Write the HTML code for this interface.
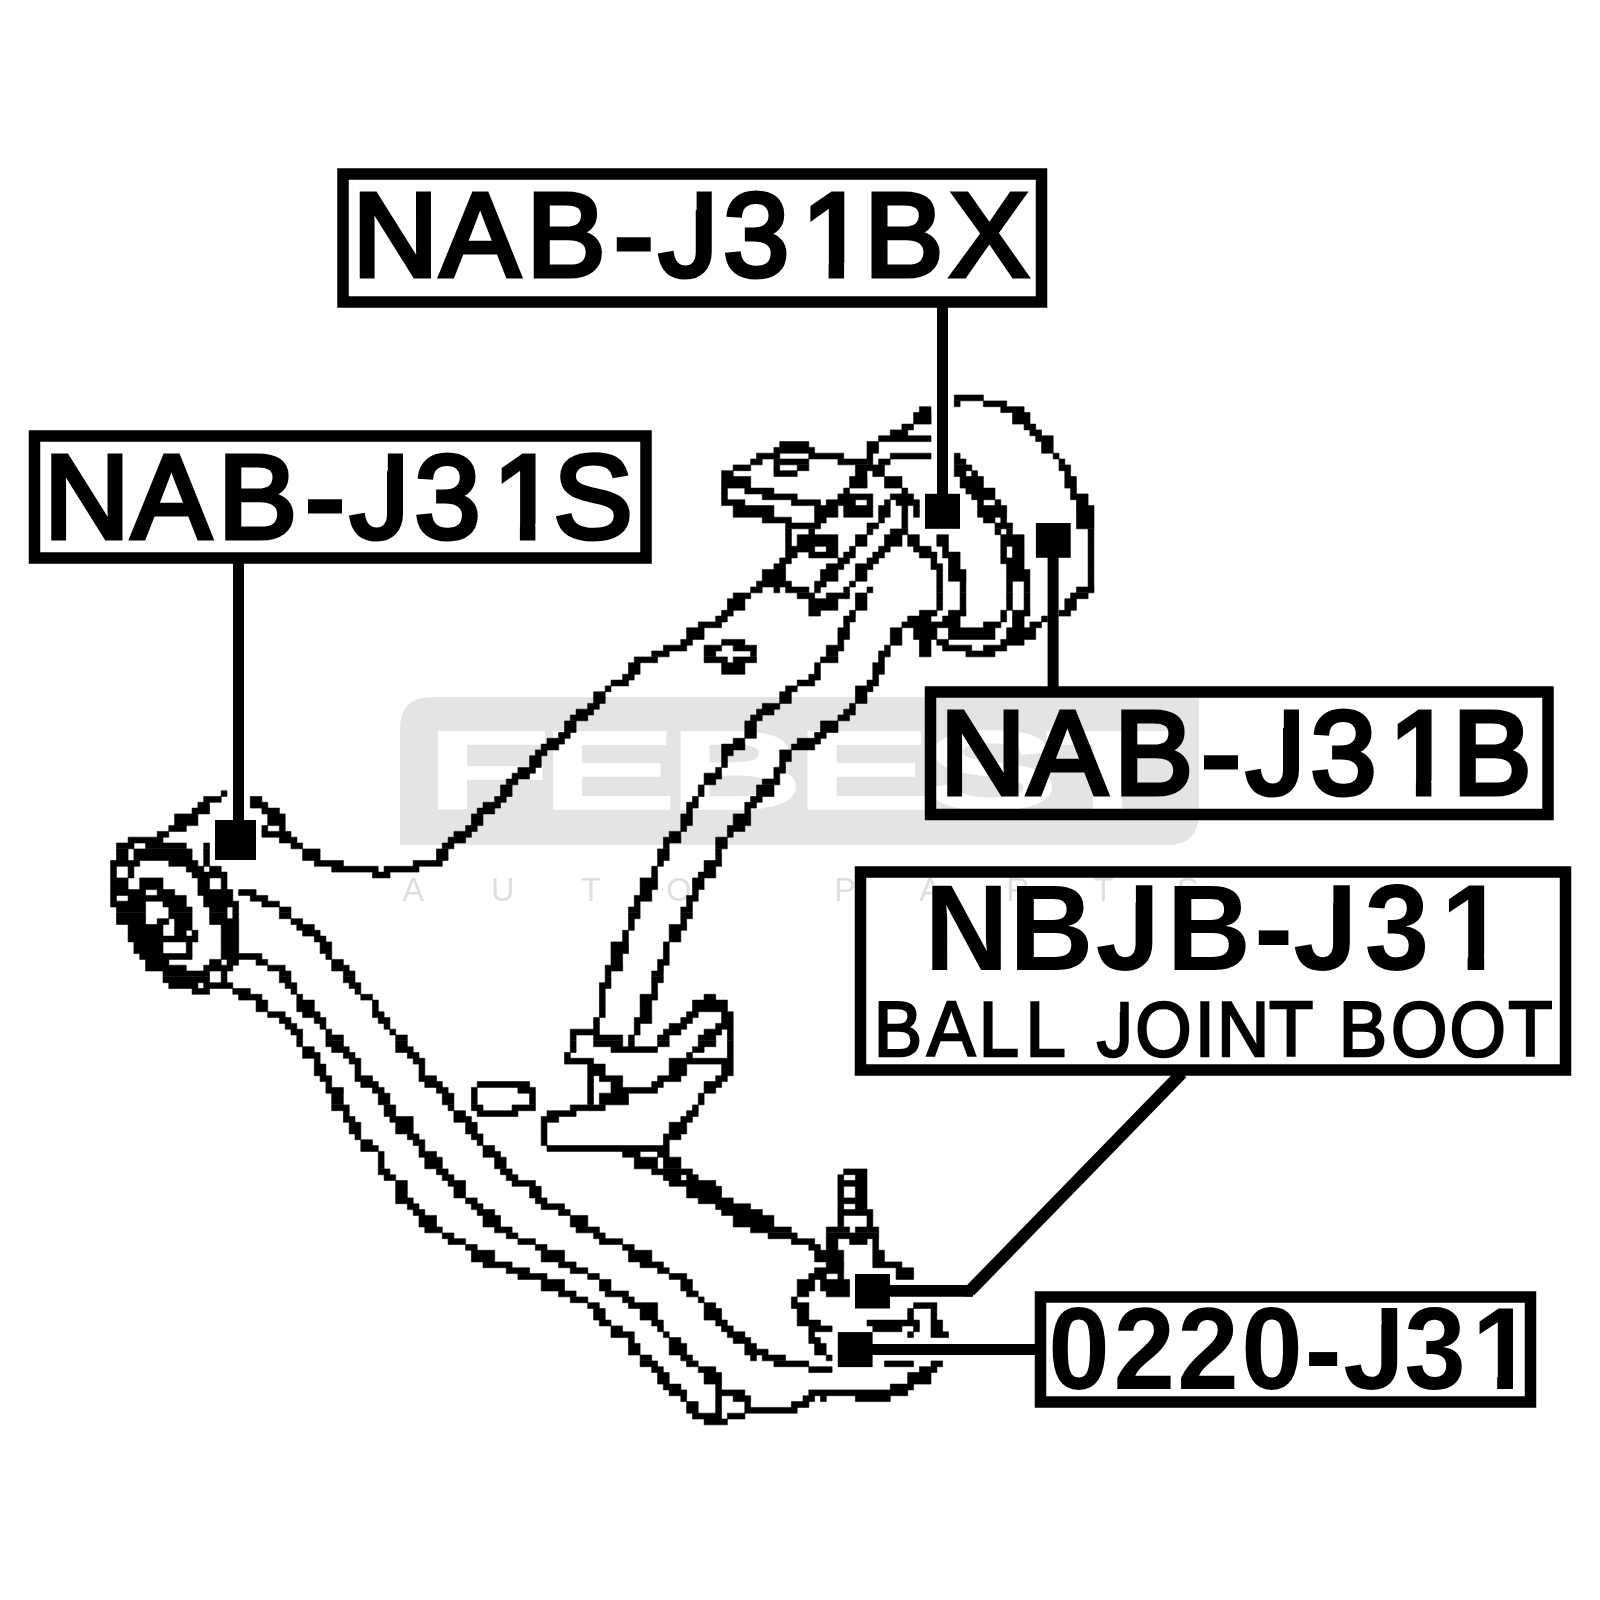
<!DOCTYPE html>
<html lang="en">
<head>
<meta charset="utf-8">
<title>Front lower arm parts diagram</title>
<style>
html,body{margin:0;padding:0;background:#fff;}
body{width:1600px;height:1600px;overflow:hidden;}
svg{display:block;}
text{font-family:"Liberation Sans",sans-serif;}
.lbl{fill:#000;stroke:#000;stroke-width:5;stroke-linejoin:miter;}
.bold{font-weight:bold;fill:#000;}
.box{fill:none;stroke:#000;stroke-width:11.5;}
.lead{fill:none;stroke:#000;stroke-width:11;}
.d{fill:none;stroke:#000;stroke-width:5;stroke-linejoin:round;stroke-linecap:round;}
.t{fill:none;stroke:#000;stroke-width:8;stroke-linejoin:round;stroke-linecap:round;}
</style>
</head>
<body>
<svg width="1600" height="1600" viewBox="0 0 1600 1600">
<rect width="1600" height="1600" fill="#fff"/>

<!-- WATERMARK -->
<g id="wm">
<path d="M432 697 H1199 V813 Q1199 845 1167 845 H400 V729 Q400 697 432 697 Z" fill="#e4e4e4"/>
<g transform="scale(1.87 1)"><text x="228.5 290.0 358.1 426.1 494.4 560.2" y="806.75" font-size="105.2" fill="#fff" stroke="#fff" stroke-width="8.5" stroke-linejoin="miter" vector-effect="non-scaling-stroke" style="vector-effect:non-scaling-stroke">FEBEST</text></g>
</g>


<!-- DRAWING -->
<g id="drawing" transform="translate(0.1 -0.6)"><path fill="#000" stroke="#000" stroke-width="0.6" d="M954.2,395.6h29.1v5.8h-29.1zM954.2,401.5h5.8v5.8h-5.8zM983.3,401.5h23.3v5.8h-23.3zM919.3,407.3h11.6v5.8h-11.6zM1000.7,407.3h23.3v5.8h-23.3zM913.5,413.1h17.5v5.8h-17.5zM1012.4,413.1h17.5v5.8h-17.5zM913.5,418.9h17.5v5.8h-17.5zM1012.4,418.9h17.5v5.8h-17.5zM901.8,424.7h11.6v5.8h-11.6zM1024.0,424.7h11.6v5.8h-11.6zM890.2,430.5h17.5v5.8h-17.5zM1029.8,430.5h11.6v5.8h-11.6zM878.5,436.4h52.4v5.8h-52.4zM1035.6,436.4h17.5v5.8h-17.5zM779.6,442.2h29.1v5.8h-29.1zM866.9,442.2h11.6v5.8h-11.6zM1041.5,442.2h11.6v5.8h-11.6zM773.8,448.0h40.7v5.8h-40.7zM866.9,448.0h11.6v5.8h-11.6zM1041.5,448.0h11.6v5.8h-11.6zM756.4,453.8h23.3v5.8h-23.3zM808.7,453.8h34.9v5.8h-34.9zM866.9,453.8h5.8v5.8h-5.8zM890.2,453.8h40.7v5.8h-40.7zM954.2,453.8h5.8v5.8h-5.8zM1053.1,453.8h5.8v5.8h-5.8zM750.5,459.6h11.6v5.8h-11.6zM773.8,459.6h34.9v5.8h-34.9zM837.8,459.6h34.9v5.8h-34.9zM878.5,459.6h11.6v5.8h-11.6zM954.2,459.6h11.6v5.8h-11.6zM1058.9,459.6h5.8v5.8h-5.8zM733.1,465.5h17.5v5.8h-17.5zM773.8,465.5h5.8v5.8h-5.8zM797.1,465.5h11.6v5.8h-11.6zM855.3,465.5h29.1v5.8h-29.1zM954.2,465.5h17.5v5.8h-17.5zM1058.9,465.5h11.6v5.8h-11.6zM721.5,471.3h11.6v5.8h-11.6zM773.8,471.3h23.3v5.8h-23.3zM855.3,471.3h11.6v5.8h-11.6zM872.7,471.3h11.6v5.8h-11.6zM954.2,471.3h11.6v5.8h-11.6zM971.6,471.3h5.8v5.8h-5.8zM1064.7,471.3h5.8v5.8h-5.8zM721.5,477.1h29.1v5.8h-29.1zM849.5,477.1h17.5v5.8h-17.5zM884.4,477.1h17.5v5.8h-17.5zM960.0,477.1h23.3v5.8h-23.3zM1064.7,477.1h11.6v5.8h-11.6zM721.5,482.9h29.1v5.8h-29.1zM849.5,482.9h17.5v5.8h-17.5zM884.4,482.9h17.5v5.8h-17.5zM960.0,482.9h23.3v5.8h-23.3zM1064.7,482.9h11.6v5.8h-11.6zM721.5,488.7h5.8v5.8h-5.8zM744.7,488.7h29.1v5.8h-29.1zM843.6,488.7h5.8v5.8h-5.8zM901.8,488.7h5.8v5.8h-5.8zM965.8,488.7h29.1v5.8h-29.1zM1070.5,488.7h5.8v5.8h-5.8zM721.5,494.5h5.8v5.8h-5.8zM762.2,494.5h34.9v5.8h-34.9zM837.8,494.5h34.9v5.8h-34.9zM890.2,494.5h23.3v5.8h-23.3zM971.6,494.5h23.3v5.8h-23.3zM1070.5,494.5h17.5v5.8h-17.5zM721.5,500.4h23.3v5.8h-23.3zM791.3,500.4h29.1v5.8h-29.1zM826.2,500.4h29.1v5.8h-29.1zM866.9,500.4h5.8v5.8h-5.8zM884.4,500.4h5.8v5.8h-5.8zM896.0,500.4h23.3v5.8h-23.3zM977.5,500.4h5.8v5.8h-5.8zM994.9,500.4h5.8v5.8h-5.8zM1076.4,500.4h11.6v5.8h-11.6zM733.1,506.2h40.7v5.8h-40.7zM814.5,506.2h23.3v5.8h-23.3zM843.6,506.2h29.1v5.8h-29.1zM878.5,506.2h11.6v5.8h-11.6zM901.8,506.2h5.8v5.8h-5.8zM913.5,506.2h5.8v5.8h-5.8zM977.5,506.2h29.1v5.8h-29.1zM1076.4,506.2h17.5v5.8h-17.5zM733.1,512.0h40.7v5.8h-40.7zM814.5,512.0h23.3v5.8h-23.3zM843.6,512.0h29.1v5.8h-29.1zM878.5,512.0h11.6v5.8h-11.6zM901.8,512.0h5.8v5.8h-5.8zM913.5,512.0h5.8v5.8h-5.8zM977.5,512.0h29.1v5.8h-29.1zM1076.4,512.0h17.5v5.8h-17.5zM762.2,517.8h29.1v5.8h-29.1zM814.5,517.8h11.6v5.8h-11.6zM878.5,517.8h5.8v5.8h-5.8zM901.8,517.8h5.8v5.8h-5.8zM983.3,517.8h11.6v5.8h-11.6zM1000.7,517.8h5.8v5.8h-5.8zM1076.4,517.8h17.5v5.8h-17.5zM785.5,523.6h34.9v5.8h-34.9zM866.9,523.6h11.6v5.8h-11.6zM901.8,523.6h5.8v5.8h-5.8zM994.9,523.6h17.5v5.8h-17.5zM1076.4,523.6h17.5v5.8h-17.5zM785.5,529.5h5.8v5.8h-5.8zM808.7,529.5h5.8v5.8h-5.8zM866.9,529.5h5.8v5.8h-5.8zM890.2,529.5h17.5v5.8h-17.5zM994.9,529.5h5.8v5.8h-5.8zM1006.5,529.5h5.8v5.8h-5.8zM1088.0,529.5h5.8v5.8h-5.8zM785.5,535.3h5.8v5.8h-5.8zM797.1,535.3h40.7v5.8h-40.7zM855.3,535.3h11.6v5.8h-11.6zM884.4,535.3h17.5v5.8h-17.5zM907.6,535.3h11.6v5.8h-11.6zM936.7,535.3h11.6v5.8h-11.6zM1000.7,535.3h23.3v5.8h-23.3zM1088.0,535.3h5.8v5.8h-5.8zM785.5,541.1h5.8v5.8h-5.8zM797.1,541.1h40.7v5.8h-40.7zM855.3,541.1h11.6v5.8h-11.6zM884.4,541.1h17.5v5.8h-17.5zM907.6,541.1h11.6v5.8h-11.6zM936.7,541.1h11.6v5.8h-11.6zM1000.7,541.1h23.3v5.8h-23.3zM1088.0,541.1h5.8v5.8h-5.8zM785.5,546.9h29.1v5.8h-29.1zM826.2,546.9h11.6v5.8h-11.6zM849.5,546.9h5.8v5.8h-5.8zM878.5,546.9h11.6v5.8h-11.6zM913.5,546.9h17.5v5.8h-17.5zM942.5,546.9h5.8v5.8h-5.8zM1000.7,546.9h5.8v5.8h-5.8zM1012.4,546.9h11.6v5.8h-11.6zM1088.0,546.9h5.8v5.8h-5.8zM785.5,552.7h11.6v5.8h-11.6zM808.7,552.7h29.1v5.8h-29.1zM843.6,552.7h11.6v5.8h-11.6zM872.7,552.7h11.6v5.8h-11.6zM919.3,552.7h17.5v5.8h-17.5zM942.5,552.7h17.5v5.8h-17.5zM1000.7,552.7h5.8v5.8h-5.8zM1012.4,552.7h11.6v5.8h-11.6zM1088.0,552.7h5.8v5.8h-5.8zM779.6,558.5h11.6v5.8h-11.6zM837.8,558.5h11.6v5.8h-11.6zM866.9,558.5h11.6v5.8h-11.6zM930.9,558.5h5.8v5.8h-5.8zM948.4,558.5h11.6v5.8h-11.6zM1000.7,558.5h23.3v5.8h-23.3zM1088.0,558.5h5.8v5.8h-5.8zM773.8,564.4h11.6v5.8h-11.6zM826.2,564.4h17.5v5.8h-17.5zM855.3,564.4h17.5v5.8h-17.5zM930.9,564.4h11.6v5.8h-11.6zM948.4,564.4h11.6v5.8h-11.6zM1006.5,564.4h17.5v5.8h-17.5zM1088.0,564.4h5.8v5.8h-5.8zM762.2,570.2h23.3v5.8h-23.3zM820.4,570.2h17.5v5.8h-17.5zM855.3,570.2h11.6v5.8h-11.6zM936.7,570.2h5.8v5.8h-5.8zM948.4,570.2h17.5v5.8h-17.5zM1006.5,570.2h23.3v5.8h-23.3zM1088.0,570.2h5.8v5.8h-5.8zM762.2,576.0h23.3v5.8h-23.3zM820.4,576.0h17.5v5.8h-17.5zM855.3,576.0h11.6v5.8h-11.6zM936.7,576.0h5.8v5.8h-5.8zM948.4,576.0h17.5v5.8h-17.5zM1006.5,576.0h23.3v5.8h-23.3zM1088.0,576.0h5.8v5.8h-5.8zM756.4,581.8h34.9v5.8h-34.9zM814.5,581.8h11.6v5.8h-11.6zM849.5,581.8h5.8v5.8h-5.8zM936.7,581.8h5.8v5.8h-5.8zM960.0,581.8h5.8v5.8h-5.8zM1006.5,581.8h5.8v5.8h-5.8zM1024.0,581.8h5.8v5.8h-5.8zM1088.0,581.8h5.8v5.8h-5.8zM750.5,587.6h11.6v5.8h-11.6zM773.8,587.6h5.8v5.8h-5.8zM785.5,587.6h23.3v5.8h-23.3zM814.5,587.6h5.8v5.8h-5.8zM843.6,587.6h5.8v5.8h-5.8zM866.9,587.6h5.8v5.8h-5.8zM936.7,587.6h5.8v5.8h-5.8zM960.0,587.6h5.8v5.8h-5.8zM1006.5,587.6h5.8v5.8h-5.8zM1024.0,587.6h5.8v5.8h-5.8zM1076.4,587.6h17.5v5.8h-17.5zM733.1,593.5h17.5v5.8h-17.5zM797.1,593.5h17.5v5.8h-17.5zM826.2,593.5h23.3v5.8h-23.3zM855.3,593.5h11.6v5.8h-11.6zM936.7,593.5h5.8v5.8h-5.8zM960.0,593.5h5.8v5.8h-5.8zM1006.5,593.5h5.8v5.8h-5.8zM1024.0,593.5h5.8v5.8h-5.8zM1070.5,593.5h17.5v5.8h-17.5zM727.3,599.3h17.5v5.8h-17.5zM808.7,599.3h29.1v5.8h-29.1zM855.3,599.3h11.6v5.8h-11.6zM936.7,599.3h5.8v5.8h-5.8zM960.0,599.3h5.8v5.8h-5.8zM1006.5,599.3h5.8v5.8h-5.8zM1024.0,599.3h5.8v5.8h-5.8zM1064.7,599.3h11.6v5.8h-11.6zM727.3,605.1h17.5v5.8h-17.5zM808.7,605.1h29.1v5.8h-29.1zM855.3,605.1h11.6v5.8h-11.6zM936.7,605.1h5.8v5.8h-5.8zM960.0,605.1h5.8v5.8h-5.8zM1006.5,605.1h5.8v5.8h-5.8zM1024.0,605.1h5.8v5.8h-5.8zM1064.7,605.1h11.6v5.8h-11.6zM721.5,610.9h11.6v5.8h-11.6zM808.7,610.9h11.6v5.8h-11.6zM849.5,610.9h5.8v5.8h-5.8zM919.3,610.9h17.5v5.8h-17.5zM948.4,610.9h17.5v5.8h-17.5zM1000.7,610.9h5.8v5.8h-5.8zM1012.4,610.9h17.5v5.8h-17.5zM1058.9,610.9h11.6v5.8h-11.6zM715.6,616.7h11.6v5.8h-11.6zM843.6,616.7h11.6v5.8h-11.6zM907.6,616.7h23.3v5.8h-23.3zM942.5,616.7h17.5v5.8h-17.5zM1000.7,616.7h5.8v5.8h-5.8zM1012.4,616.7h11.6v5.8h-11.6zM1041.5,616.7h5.8v5.8h-5.8zM698.2,622.5h23.3v5.8h-23.3zM843.6,622.5h5.8v5.8h-5.8zM901.8,622.5h58.2v5.8h-58.2zM983.3,622.5h17.5v5.8h-17.5zM1012.4,622.5h11.6v5.8h-11.6zM1029.8,622.5h11.6v5.8h-11.6zM686.5,628.4h17.5v5.8h-17.5zM837.8,628.4h11.6v5.8h-11.6zM890.2,628.4h11.6v5.8h-11.6zM913.5,628.4h23.3v5.8h-23.3zM948.4,628.4h46.5v5.8h-46.5zM1006.5,628.4h29.1v5.8h-29.1zM686.5,634.2h17.5v5.8h-17.5zM837.8,634.2h11.6v5.8h-11.6zM890.2,634.2h11.6v5.8h-11.6zM913.5,634.2h23.3v5.8h-23.3zM948.4,634.2h46.5v5.8h-46.5zM1006.5,634.2h29.1v5.8h-29.1zM680.7,640.0h11.6v5.8h-11.6zM721.5,640.0h23.3v5.8h-23.3zM837.8,640.0h5.8v5.8h-5.8zM890.2,640.0h11.6v5.8h-11.6zM919.3,640.0h11.6v5.8h-11.6zM936.7,640.0h11.6v5.8h-11.6zM1000.7,640.0h23.3v5.8h-23.3zM663.3,645.8h23.3v5.8h-23.3zM704.0,645.8h17.5v5.8h-17.5zM733.1,645.8h23.3v5.8h-23.3zM826.2,645.8h17.5v5.8h-17.5zM884.4,645.8h5.8v5.8h-5.8zM919.3,645.8h11.6v5.8h-11.6zM942.5,645.8h29.1v5.8h-29.1zM983.3,645.8h23.3v5.8h-23.3zM651.6,651.6h17.5v5.8h-17.5zM704.0,651.6h11.6v5.8h-11.6zM750.5,651.6h5.8v5.8h-5.8zM826.2,651.6h11.6v5.8h-11.6zM878.5,651.6h11.6v5.8h-11.6zM919.3,651.6h11.6v5.8h-11.6zM965.8,651.6h29.1v5.8h-29.1zM634.2,657.5h23.3v5.8h-23.3zM704.0,657.5h23.3v5.8h-23.3zM733.1,657.5h23.3v5.8h-23.3zM820.4,657.5h17.5v5.8h-17.5zM878.5,657.5h5.8v5.8h-5.8zM628.4,663.3h11.6v5.8h-11.6zM721.5,663.3h23.3v5.8h-23.3zM814.5,663.3h5.8v5.8h-5.8zM872.7,663.3h11.6v5.8h-11.6zM628.4,669.1h11.6v5.8h-11.6zM721.5,669.1h23.3v5.8h-23.3zM814.5,669.1h5.8v5.8h-5.8zM872.7,669.1h11.6v5.8h-11.6zM622.5,674.9h11.6v5.8h-11.6zM808.7,674.9h11.6v5.8h-11.6zM872.7,674.9h5.8v5.8h-5.8zM610.9,680.7h17.5v5.8h-17.5zM797.1,680.7h17.5v5.8h-17.5zM866.9,680.7h11.6v5.8h-11.6zM605.1,686.5h5.8v5.8h-5.8zM785.5,686.5h11.6v5.8h-11.6zM855.3,686.5h17.5v5.8h-17.5zM593.5,692.4h11.6v5.8h-11.6zM779.6,692.4h11.6v5.8h-11.6zM855.3,692.4h11.6v5.8h-11.6zM593.5,698.2h11.6v5.8h-11.6zM779.6,698.2h11.6v5.8h-11.6zM855.3,698.2h11.6v5.8h-11.6zM587.6,704.0h11.6v5.8h-11.6zM762.2,704.0h17.5v5.8h-17.5zM849.5,704.0h5.8v5.8h-5.8zM576.0,709.8h17.5v5.8h-17.5zM756.4,709.8h17.5v5.8h-17.5zM843.6,709.8h11.6v5.8h-11.6zM570.2,715.6h17.5v5.8h-17.5zM750.5,715.6h11.6v5.8h-11.6zM837.8,715.6h11.6v5.8h-11.6zM564.4,721.5h11.6v5.8h-11.6zM744.7,721.5h11.6v5.8h-11.6zM820.4,721.5h17.5v5.8h-17.5zM564.4,727.3h11.6v5.8h-11.6zM744.7,727.3h11.6v5.8h-11.6zM820.4,727.3h17.5v5.8h-17.5zM558.5,733.1h11.6v5.8h-11.6zM744.7,733.1h11.6v5.8h-11.6zM814.5,733.1h11.6v5.8h-11.6zM546.9,738.9h17.5v5.8h-17.5zM733.1,738.9h11.6v5.8h-11.6zM797.1,738.9h23.3v5.8h-23.3zM541.1,744.7h17.5v5.8h-17.5zM721.5,744.7h23.3v5.8h-23.3zM791.3,744.7h23.3v5.8h-23.3zM535.3,750.5h11.6v5.8h-11.6zM721.5,750.5h11.6v5.8h-11.6zM779.6,750.5h11.6v5.8h-11.6zM529.5,756.4h11.6v5.8h-11.6zM721.5,756.4h5.8v5.8h-5.8zM779.6,756.4h11.6v5.8h-11.6zM529.5,762.2h11.6v5.8h-11.6zM721.5,762.2h5.8v5.8h-5.8zM779.6,762.2h5.8v5.8h-5.8zM517.8,768.0h17.5v5.8h-17.5zM715.6,768.0h5.8v5.8h-5.8zM773.8,768.0h11.6v5.8h-11.6zM512.0,773.8h17.5v5.8h-17.5zM704.0,773.8h17.5v5.8h-17.5zM773.8,773.8h5.8v5.8h-5.8zM506.2,779.6h11.6v5.8h-11.6zM704.0,779.6h11.6v5.8h-11.6zM762.2,779.6h17.5v5.8h-17.5zM500.4,785.5h11.6v5.8h-11.6zM698.2,785.5h5.8v5.8h-5.8zM756.4,785.5h17.5v5.8h-17.5zM221.1,791.3h5.8v5.8h-5.8zM500.4,791.3h11.6v5.8h-11.6zM698.2,791.3h5.8v5.8h-5.8zM756.4,791.3h17.5v5.8h-17.5zM203.6,797.1h17.5v5.8h-17.5zM250.2,797.1h11.6v5.8h-11.6zM494.5,797.1h11.6v5.8h-11.6zM692.4,797.1h5.8v5.8h-5.8zM750.5,797.1h11.6v5.8h-11.6zM197.8,802.9h11.6v5.8h-11.6zM250.2,802.9h17.5v5.8h-17.5zM482.9,802.9h17.5v5.8h-17.5zM686.5,802.9h11.6v5.8h-11.6zM744.7,802.9h11.6v5.8h-11.6zM192.0,808.7h17.5v5.8h-17.5zM261.8,808.7h17.5v5.8h-17.5zM477.1,808.7h17.5v5.8h-17.5zM686.5,808.7h5.8v5.8h-5.8zM744.7,808.7h5.8v5.8h-5.8zM174.5,814.5h23.3v5.8h-23.3zM267.6,814.5h17.5v5.8h-17.5zM471.3,814.5h11.6v5.8h-11.6zM680.7,814.5h11.6v5.8h-11.6zM733.1,814.5h17.5v5.8h-17.5zM174.5,820.4h23.3v5.8h-23.3zM267.6,820.4h17.5v5.8h-17.5zM471.3,820.4h11.6v5.8h-11.6zM680.7,820.4h11.6v5.8h-11.6zM733.1,820.4h17.5v5.8h-17.5zM168.7,826.2h17.5v5.8h-17.5zM261.8,826.2h5.8v5.8h-5.8zM279.3,826.2h5.8v5.8h-5.8zM465.5,826.2h11.6v5.8h-11.6zM680.7,826.2h5.8v5.8h-5.8zM727.3,826.2h17.5v5.8h-17.5zM157.1,832.0h11.6v5.8h-11.6zM261.8,832.0h29.1v5.8h-29.1zM453.8,832.0h17.5v5.8h-17.5zM669.1,832.0h11.6v5.8h-11.6zM727.3,832.0h5.8v5.8h-5.8zM128.0,837.8h34.9v5.8h-34.9zM279.3,837.8h17.5v5.8h-17.5zM448.0,837.8h17.5v5.8h-17.5zM663.3,837.8h17.5v5.8h-17.5zM715.6,837.8h11.6v5.8h-11.6zM116.4,843.6h17.5v5.8h-17.5zM145.5,843.6h40.7v5.8h-40.7zM203.6,843.6h5.8v5.8h-5.8zM290.9,843.6h11.6v5.8h-11.6zM442.2,843.6h11.6v5.8h-11.6zM663.3,843.6h5.8v5.8h-5.8zM715.6,843.6h11.6v5.8h-11.6zM116.4,849.5h11.6v5.8h-11.6zM133.8,849.5h58.2v5.8h-58.2zM203.6,849.5h5.8v5.8h-5.8zM302.5,849.5h17.5v5.8h-17.5zM436.4,849.5h11.6v5.8h-11.6zM657.5,849.5h11.6v5.8h-11.6zM715.6,849.5h5.8v5.8h-5.8zM116.4,855.3h11.6v5.8h-11.6zM133.8,855.3h58.2v5.8h-58.2zM203.6,855.3h5.8v5.8h-5.8zM302.5,855.3h17.5v5.8h-17.5zM436.4,855.3h11.6v5.8h-11.6zM657.5,855.3h11.6v5.8h-11.6zM715.6,855.3h5.8v5.8h-5.8zM110.5,861.1h29.1v5.8h-29.1zM168.7,861.1h29.1v5.8h-29.1zM203.6,861.1h5.8v5.8h-5.8zM314.2,861.1h29.1v5.8h-29.1zM413.1,861.1h29.1v5.8h-29.1zM657.5,861.1h5.8v5.8h-5.8zM704.0,861.1h17.5v5.8h-17.5zM110.5,866.9h5.8v5.8h-5.8zM128.0,866.9h5.8v5.8h-5.8zM186.2,866.9h17.5v5.8h-17.5zM209.5,866.9h11.6v5.8h-11.6zM331.6,866.9h46.5v5.8h-46.5zM384.0,866.9h34.9v5.8h-34.9zM651.6,866.9h5.8v5.8h-5.8zM704.0,866.9h11.6v5.8h-11.6zM110.5,872.7h5.8v5.8h-5.8zM128.0,872.7h5.8v5.8h-5.8zM192.0,872.7h34.9v5.8h-34.9zM372.4,872.7h17.5v5.8h-17.5zM651.6,872.7h5.8v5.8h-5.8zM698.2,872.7h17.5v5.8h-17.5zM110.5,878.5h17.5v5.8h-17.5zM139.6,878.5h23.3v5.8h-23.3zM197.8,878.5h11.6v5.8h-11.6zM221.1,878.5h5.8v5.8h-5.8zM640.0,878.5h17.5v5.8h-17.5zM692.4,878.5h11.6v5.8h-11.6zM110.5,884.4h17.5v5.8h-17.5zM139.6,884.4h23.3v5.8h-23.3zM197.8,884.4h11.6v5.8h-11.6zM221.1,884.4h5.8v5.8h-5.8zM640.0,884.4h17.5v5.8h-17.5zM692.4,884.4h11.6v5.8h-11.6zM110.5,890.2h34.9v5.8h-34.9zM157.1,890.2h17.5v5.8h-17.5zM197.8,890.2h34.9v5.8h-34.9zM238.5,890.2h17.5v5.8h-17.5zM640.0,890.2h11.6v5.8h-11.6zM692.4,890.2h5.8v5.8h-5.8zM110.5,896.0h5.8v5.8h-5.8zM128.0,896.0h58.2v5.8h-58.2zM203.6,896.0h29.1v5.8h-29.1zM250.2,896.0h17.5v5.8h-17.5zM634.2,896.0h17.5v5.8h-17.5zM686.5,896.0h11.6v5.8h-11.6zM110.5,901.8h34.9v5.8h-34.9zM162.9,901.8h23.3v5.8h-23.3zM203.6,901.8h34.9v5.8h-34.9zM261.8,901.8h17.5v5.8h-17.5zM634.2,901.8h5.8v5.8h-5.8zM686.5,901.8h5.8v5.8h-5.8zM116.4,907.6h29.1v5.8h-29.1zM168.7,907.6h23.3v5.8h-23.3zM209.5,907.6h17.5v5.8h-17.5zM232.7,907.6h5.8v5.8h-5.8zM279.3,907.6h11.6v5.8h-11.6zM628.4,907.6h11.6v5.8h-11.6zM680.7,907.6h11.6v5.8h-11.6zM116.4,913.5h29.1v5.8h-29.1zM168.7,913.5h23.3v5.8h-23.3zM209.5,913.5h17.5v5.8h-17.5zM232.7,913.5h5.8v5.8h-5.8zM279.3,913.5h11.6v5.8h-11.6zM628.4,913.5h11.6v5.8h-11.6zM680.7,913.5h11.6v5.8h-11.6zM116.4,919.3h29.1v5.8h-29.1zM157.1,919.3h11.6v5.8h-11.6zM174.5,919.3h17.5v5.8h-17.5zM209.5,919.3h29.1v5.8h-29.1zM290.9,919.3h11.6v5.8h-11.6zM628.4,919.3h5.8v5.8h-5.8zM680.7,919.3h5.8v5.8h-5.8zM128.0,925.1h34.9v5.8h-34.9zM174.5,925.1h17.5v5.8h-17.5zM221.1,925.1h17.5v5.8h-17.5zM296.7,925.1h17.5v5.8h-17.5zM628.4,925.1h5.8v5.8h-5.8zM669.1,925.1h17.5v5.8h-17.5zM128.0,930.9h34.9v5.8h-34.9zM174.5,930.9h11.6v5.8h-11.6zM192.0,930.9h5.8v5.8h-5.8zM221.1,930.9h17.5v5.8h-17.5zM302.5,930.9h17.5v5.8h-17.5zM622.5,930.9h5.8v5.8h-5.8zM669.1,930.9h11.6v5.8h-11.6zM128.0,936.7h69.8v5.8h-69.8zM221.1,936.7h17.5v5.8h-17.5zM314.2,936.7h11.6v5.8h-11.6zM622.5,936.7h5.8v5.8h-5.8zM669.1,936.7h11.6v5.8h-11.6zM133.8,942.5h29.1v5.8h-29.1zM186.2,942.5h5.8v5.8h-5.8zM221.1,942.5h17.5v5.8h-17.5zM320.0,942.5h11.6v5.8h-11.6zM610.9,942.5h17.5v5.8h-17.5zM663.3,942.5h5.8v5.8h-5.8zM133.8,948.4h29.1v5.8h-29.1zM186.2,948.4h5.8v5.8h-5.8zM221.1,948.4h17.5v5.8h-17.5zM320.0,948.4h11.6v5.8h-11.6zM610.9,948.4h17.5v5.8h-17.5zM663.3,948.4h5.8v5.8h-5.8zM139.6,954.2h52.4v5.8h-52.4zM221.1,954.2h40.7v5.8h-40.7zM325.8,954.2h5.8v5.8h-5.8zM610.9,954.2h11.6v5.8h-11.6zM663.3,954.2h5.8v5.8h-5.8zM145.5,960.0h23.3v5.8h-23.3zM209.5,960.0h11.6v5.8h-11.6zM226.9,960.0h11.6v5.8h-11.6zM256.0,960.0h11.6v5.8h-11.6zM331.6,960.0h11.6v5.8h-11.6zM610.9,960.0h11.6v5.8h-11.6zM657.5,960.0h11.6v5.8h-11.6zM145.5,965.8h40.7v5.8h-40.7zM203.6,965.8h29.1v5.8h-29.1zM267.6,965.8h17.5v5.8h-17.5zM331.6,965.8h17.5v5.8h-17.5zM605.1,965.8h17.5v5.8h-17.5zM657.5,965.8h5.8v5.8h-5.8zM162.9,971.6h46.5v5.8h-46.5zM221.1,971.6h5.8v5.8h-5.8zM279.3,971.6h11.6v5.8h-11.6zM343.3,971.6h11.6v5.8h-11.6zM605.1,971.6h5.8v5.8h-5.8zM651.6,971.6h11.6v5.8h-11.6zM162.9,977.5h46.5v5.8h-46.5zM221.1,977.5h5.8v5.8h-5.8zM279.3,977.5h11.6v5.8h-11.6zM343.3,977.5h11.6v5.8h-11.6zM605.1,977.5h5.8v5.8h-5.8zM651.6,977.5h11.6v5.8h-11.6zM168.7,983.3h29.1v5.8h-29.1zM203.6,983.3h29.1v5.8h-29.1zM285.1,983.3h11.6v5.8h-11.6zM349.1,983.3h11.6v5.8h-11.6zM599.3,983.3h11.6v5.8h-11.6zM651.6,983.3h5.8v5.8h-5.8zM192.0,989.1h17.5v5.8h-17.5zM232.7,989.1h17.5v5.8h-17.5zM290.9,989.1h5.8v5.8h-5.8zM354.9,989.1h5.8v5.8h-5.8zM599.3,989.1h5.8v5.8h-5.8zM651.6,989.1h5.8v5.8h-5.8zM238.5,994.9h23.3v5.8h-23.3zM296.7,994.9h5.8v5.8h-5.8zM360.7,994.9h11.6v5.8h-11.6zM599.3,994.9h5.8v5.8h-5.8zM640.0,994.9h17.5v5.8h-17.5zM704.0,994.9h11.6v5.8h-11.6zM256.0,1000.7h11.6v5.8h-11.6zM296.7,1000.7h17.5v5.8h-17.5zM372.4,1000.7h5.8v5.8h-5.8zM599.3,1000.7h5.8v5.8h-5.8zM640.0,1000.7h11.6v5.8h-11.6zM692.4,1000.7h34.9v5.8h-34.9zM256.0,1006.5h11.6v5.8h-11.6zM296.7,1006.5h17.5v5.8h-17.5zM372.4,1006.5h5.8v5.8h-5.8zM599.3,1006.5h5.8v5.8h-5.8zM640.0,1006.5h11.6v5.8h-11.6zM692.4,1006.5h34.9v5.8h-34.9zM267.6,1012.4h17.5v5.8h-17.5zM302.5,1012.4h17.5v5.8h-17.5zM372.4,1012.4h11.6v5.8h-11.6zM599.3,1012.4h5.8v5.8h-5.8zM640.0,1012.4h11.6v5.8h-11.6zM686.5,1012.4h11.6v5.8h-11.6zM721.5,1012.4h11.6v5.8h-11.6zM279.3,1018.2h11.6v5.8h-11.6zM314.2,1018.2h11.6v5.8h-11.6zM378.2,1018.2h11.6v5.8h-11.6zM593.5,1018.2h5.8v5.8h-5.8zM634.2,1018.2h17.5v5.8h-17.5zM680.7,1018.2h11.6v5.8h-11.6zM721.5,1018.2h11.6v5.8h-11.6zM285.1,1024.0h11.6v5.8h-11.6zM320.0,1024.0h5.8v5.8h-5.8zM384.0,1024.0h5.8v5.8h-5.8zM593.5,1024.0h5.8v5.8h-5.8zM634.2,1024.0h5.8v5.8h-5.8zM669.1,1024.0h17.5v5.8h-17.5zM715.6,1024.0h17.5v5.8h-17.5zM290.9,1029.8h11.6v5.8h-11.6zM325.8,1029.8h5.8v5.8h-5.8zM389.8,1029.8h5.8v5.8h-5.8zM570.2,1029.8h29.1v5.8h-29.1zM634.2,1029.8h5.8v5.8h-5.8zM663.3,1029.8h17.5v5.8h-17.5zM704.0,1029.8h17.5v5.8h-17.5zM727.3,1029.8h5.8v5.8h-5.8zM296.7,1035.6h5.8v5.8h-5.8zM325.8,1035.6h17.5v5.8h-17.5zM395.6,1035.6h11.6v5.8h-11.6zM570.2,1035.6h5.8v5.8h-5.8zM593.5,1035.6h29.1v5.8h-29.1zM628.4,1035.6h5.8v5.8h-5.8zM657.5,1035.6h11.6v5.8h-11.6zM698.2,1035.6h17.5v5.8h-17.5zM727.3,1035.6h5.8v5.8h-5.8zM296.7,1041.5h5.8v5.8h-5.8zM325.8,1041.5h17.5v5.8h-17.5zM395.6,1041.5h11.6v5.8h-11.6zM570.2,1041.5h5.8v5.8h-5.8zM593.5,1041.5h29.1v5.8h-29.1zM628.4,1041.5h5.8v5.8h-5.8zM657.5,1041.5h11.6v5.8h-11.6zM698.2,1041.5h17.5v5.8h-17.5zM727.3,1041.5h5.8v5.8h-5.8zM302.5,1047.3h11.6v5.8h-11.6zM331.6,1047.3h17.5v5.8h-17.5zM395.6,1047.3h17.5v5.8h-17.5zM570.2,1047.3h5.8v5.8h-5.8zM610.9,1047.3h46.5v5.8h-46.5zM692.4,1047.3h11.6v5.8h-11.6zM727.3,1047.3h5.8v5.8h-5.8zM302.5,1053.1h17.5v5.8h-17.5zM343.3,1053.1h11.6v5.8h-11.6zM407.3,1053.1h11.6v5.8h-11.6zM564.4,1053.1h5.8v5.8h-5.8zM686.5,1053.1h5.8v5.8h-5.8zM727.3,1053.1h5.8v5.8h-5.8zM314.2,1058.9h5.8v5.8h-5.8zM349.1,1058.9h11.6v5.8h-11.6zM413.1,1058.9h11.6v5.8h-11.6zM564.4,1058.9h29.1v5.8h-29.1zM669.1,1058.9h64.0v5.8h-64.0zM314.2,1064.7h11.6v5.8h-11.6zM354.9,1064.7h5.8v5.8h-5.8zM418.9,1064.7h5.8v5.8h-5.8zM587.6,1064.7h17.5v5.8h-17.5zM669.1,1064.7h17.5v5.8h-17.5zM721.5,1064.7h11.6v5.8h-11.6zM314.2,1070.5h11.6v5.8h-11.6zM354.9,1070.5h5.8v5.8h-5.8zM418.9,1070.5h5.8v5.8h-5.8zM587.6,1070.5h17.5v5.8h-17.5zM669.1,1070.5h17.5v5.8h-17.5zM721.5,1070.5h11.6v5.8h-11.6zM320.0,1076.4h11.6v5.8h-11.6zM354.9,1076.4h17.5v5.8h-17.5zM418.9,1076.4h17.5v5.8h-17.5zM587.6,1076.4h5.8v5.8h-5.8zM599.3,1076.4h23.3v5.8h-23.3zM657.5,1076.4h23.3v5.8h-23.3zM715.6,1076.4h11.6v5.8h-11.6zM325.8,1082.2h5.8v5.8h-5.8zM360.7,1082.2h17.5v5.8h-17.5zM424.7,1082.2h17.5v5.8h-17.5zM477.1,1082.2h52.4v5.8h-52.4zM587.6,1082.2h5.8v5.8h-5.8zM610.9,1082.2h11.6v5.8h-11.6zM651.6,1082.2h11.6v5.8h-11.6zM704.0,1082.2h17.5v5.8h-17.5zM325.8,1088.0h17.5v5.8h-17.5zM372.4,1088.0h11.6v5.8h-11.6zM436.4,1088.0h11.6v5.8h-11.6zM471.3,1088.0h5.8v5.8h-5.8zM517.8,1088.0h17.5v5.8h-17.5zM587.6,1088.0h5.8v5.8h-5.8zM610.9,1088.0h46.5v5.8h-46.5zM704.0,1088.0h11.6v5.8h-11.6zM331.6,1093.8h11.6v5.8h-11.6zM378.2,1093.8h11.6v5.8h-11.6zM442.2,1093.8h11.6v5.8h-11.6zM471.3,1093.8h5.8v5.8h-5.8zM529.5,1093.8h5.8v5.8h-5.8zM587.6,1093.8h5.8v5.8h-5.8zM599.3,1093.8h29.1v5.8h-29.1zM698.2,1093.8h5.8v5.8h-5.8zM331.6,1099.6h11.6v5.8h-11.6zM378.2,1099.6h11.6v5.8h-11.6zM442.2,1099.6h11.6v5.8h-11.6zM471.3,1099.6h5.8v5.8h-5.8zM529.5,1099.6h5.8v5.8h-5.8zM587.6,1099.6h5.8v5.8h-5.8zM599.3,1099.6h29.1v5.8h-29.1zM698.2,1099.6h5.8v5.8h-5.8zM331.6,1105.5h17.5v5.8h-17.5zM384.0,1105.5h11.6v5.8h-11.6zM448.0,1105.5h5.8v5.8h-5.8zM471.3,1105.5h11.6v5.8h-11.6zM512.0,1105.5h23.3v5.8h-23.3zM570.2,1105.5h34.9v5.8h-34.9zM692.4,1105.5h5.8v5.8h-5.8zM343.3,1111.3h5.8v5.8h-5.8zM384.0,1111.3h11.6v5.8h-11.6zM453.8,1111.3h11.6v5.8h-11.6zM477.1,1111.3h40.7v5.8h-40.7zM546.9,1111.3h29.1v5.8h-29.1zM686.5,1111.3h11.6v5.8h-11.6zM343.3,1117.1h11.6v5.8h-11.6zM389.8,1117.1h23.3v5.8h-23.3zM453.8,1117.1h17.5v5.8h-17.5zM541.1,1117.1h17.5v5.8h-17.5zM680.7,1117.1h11.6v5.8h-11.6zM349.1,1122.9h11.6v5.8h-11.6zM395.6,1122.9h17.5v5.8h-17.5zM465.5,1122.9h11.6v5.8h-11.6zM541.1,1122.9h5.8v5.8h-5.8zM669.1,1122.9h17.5v5.8h-17.5zM349.1,1128.7h11.6v5.8h-11.6zM395.6,1128.7h17.5v5.8h-17.5zM465.5,1128.7h11.6v5.8h-11.6zM541.1,1128.7h5.8v5.8h-5.8zM669.1,1128.7h17.5v5.8h-17.5zM354.9,1134.5h5.8v5.8h-5.8zM407.3,1134.5h11.6v5.8h-11.6zM471.3,1134.5h11.6v5.8h-11.6zM541.1,1134.5h5.8v5.8h-5.8zM663.3,1134.5h17.5v5.8h-17.5zM360.7,1140.4h11.6v5.8h-11.6zM413.1,1140.4h11.6v5.8h-11.6zM477.1,1140.4h5.8v5.8h-5.8zM541.1,1140.4h5.8v5.8h-5.8zM663.3,1140.4h5.8v5.8h-5.8zM360.7,1146.2h17.5v5.8h-17.5zM418.9,1146.2h5.8v5.8h-5.8zM482.9,1146.2h11.6v5.8h-11.6zM546.9,1146.2h122.2v5.8h-122.2zM378.2,1152.0h5.8v5.8h-5.8zM418.9,1152.0h17.5v5.8h-17.5zM482.9,1152.0h17.5v5.8h-17.5zM622.5,1152.0h17.5v5.8h-17.5zM657.5,1152.0h11.6v5.8h-11.6zM378.2,1157.8h5.8v5.8h-5.8zM424.7,1157.8h17.5v5.8h-17.5zM494.5,1157.8h11.6v5.8h-11.6zM634.2,1157.8h23.3v5.8h-23.3zM663.3,1157.8h17.5v5.8h-17.5zM378.2,1163.6h5.8v5.8h-5.8zM424.7,1163.6h17.5v5.8h-17.5zM494.5,1163.6h11.6v5.8h-11.6zM634.2,1163.6h23.3v5.8h-23.3zM663.3,1163.6h17.5v5.8h-17.5zM378.2,1169.5h11.6v5.8h-11.6zM436.4,1169.5h11.6v5.8h-11.6zM500.4,1169.5h11.6v5.8h-11.6zM651.6,1169.5h40.7v5.8h-40.7zM843.6,1169.5h23.3v5.8h-23.3zM384.0,1175.3h11.6v5.8h-11.6zM442.2,1175.3h11.6v5.8h-11.6zM506.2,1175.3h11.6v5.8h-11.6zM663.3,1175.3h17.5v5.8h-17.5zM686.5,1175.3h11.6v5.8h-11.6zM837.8,1175.3h5.8v5.8h-5.8zM855.3,1175.3h11.6v5.8h-11.6zM395.6,1181.1h11.6v5.8h-11.6zM448.0,1181.1h17.5v5.8h-17.5zM512.0,1181.1h23.3v5.8h-23.3zM669.1,1181.1h46.5v5.8h-46.5zM837.8,1181.1h29.1v5.8h-29.1zM395.6,1186.9h11.6v5.8h-11.6zM453.8,1186.9h11.6v5.8h-11.6zM529.5,1186.9h11.6v5.8h-11.6zM686.5,1186.9h34.9v5.8h-34.9zM837.8,1186.9h5.8v5.8h-5.8zM855.3,1186.9h11.6v5.8h-11.6zM395.6,1192.7h11.6v5.8h-11.6zM453.8,1192.7h11.6v5.8h-11.6zM529.5,1192.7h11.6v5.8h-11.6zM686.5,1192.7h34.9v5.8h-34.9zM837.8,1192.7h5.8v5.8h-5.8zM855.3,1192.7h11.6v5.8h-11.6zM395.6,1198.5h17.5v5.8h-17.5zM465.5,1198.5h11.6v5.8h-11.6zM535.3,1198.5h11.6v5.8h-11.6zM698.2,1198.5h34.9v5.8h-34.9zM837.8,1198.5h29.1v5.8h-29.1zM407.3,1204.4h11.6v5.8h-11.6zM471.3,1204.4h11.6v5.8h-11.6zM541.1,1204.4h23.3v5.8h-23.3zM715.6,1204.4h34.9v5.8h-34.9zM837.8,1204.4h5.8v5.8h-5.8zM855.3,1204.4h11.6v5.8h-11.6zM413.1,1210.2h11.6v5.8h-11.6zM477.1,1210.2h17.5v5.8h-17.5zM558.5,1210.2h11.6v5.8h-11.6zM721.5,1210.2h40.7v5.8h-40.7zM837.8,1210.2h34.9v5.8h-34.9zM418.9,1216.0h17.5v5.8h-17.5zM482.9,1216.0h17.5v5.8h-17.5zM570.2,1216.0h17.5v5.8h-17.5zM733.1,1216.0h40.7v5.8h-40.7zM837.8,1216.0h5.8v5.8h-5.8zM866.9,1216.0h5.8v5.8h-5.8zM418.9,1221.8h17.5v5.8h-17.5zM482.9,1221.8h17.5v5.8h-17.5zM570.2,1221.8h17.5v5.8h-17.5zM733.1,1221.8h40.7v5.8h-40.7zM837.8,1221.8h5.8v5.8h-5.8zM866.9,1221.8h5.8v5.8h-5.8zM424.7,1227.6h17.5v5.8h-17.5zM494.5,1227.6h17.5v5.8h-17.5zM576.0,1227.6h23.3v5.8h-23.3zM750.5,1227.6h40.7v5.8h-40.7zM826.2,1227.6h23.3v5.8h-23.3zM855.3,1227.6h23.3v5.8h-23.3zM442.2,1233.5h11.6v5.8h-11.6zM506.2,1233.5h11.6v5.8h-11.6zM593.5,1233.5h11.6v5.8h-11.6zM768.0,1233.5h29.1v5.8h-29.1zM826.2,1233.5h52.4v5.8h-52.4zM448.0,1239.3h17.5v5.8h-17.5zM517.8,1239.3h17.5v5.8h-17.5zM599.3,1239.3h23.3v5.8h-23.3zM791.3,1239.3h23.3v5.8h-23.3zM826.2,1239.3h11.6v5.8h-11.6zM849.5,1239.3h17.5v5.8h-17.5zM872.7,1239.3h5.8v5.8h-5.8zM465.5,1245.1h11.6v5.8h-11.6zM535.3,1245.1h11.6v5.8h-11.6zM622.5,1245.1h11.6v5.8h-11.6zM808.7,1245.1h11.6v5.8h-11.6zM826.2,1245.1h11.6v5.8h-11.6zM872.7,1245.1h5.8v5.8h-5.8zM471.3,1250.9h23.3v5.8h-23.3zM541.1,1250.9h23.3v5.8h-23.3zM628.4,1250.9h23.3v5.8h-23.3zM814.5,1250.9h29.1v5.8h-29.1zM872.7,1250.9h11.6v5.8h-11.6zM471.3,1256.7h23.3v5.8h-23.3zM541.1,1256.7h23.3v5.8h-23.3zM628.4,1256.7h23.3v5.8h-23.3zM814.5,1256.7h29.1v5.8h-29.1zM872.7,1256.7h11.6v5.8h-11.6zM482.9,1262.5h29.1v5.8h-29.1zM558.5,1262.5h17.5v5.8h-17.5zM640.0,1262.5h23.3v5.8h-23.3zM826.2,1262.5h17.5v5.8h-17.5zM872.7,1262.5h29.1v5.8h-29.1zM506.2,1268.4h23.3v5.8h-23.3zM570.2,1268.4h17.5v5.8h-17.5zM657.5,1268.4h11.6v5.8h-11.6zM814.5,1268.4h29.1v5.8h-29.1zM896.0,1268.4h17.5v5.8h-17.5zM517.8,1274.2h29.1v5.8h-29.1zM587.6,1274.2h11.6v5.8h-11.6zM669.1,1274.2h17.5v5.8h-17.5zM808.7,1274.2h17.5v5.8h-17.5zM837.8,1274.2h5.8v5.8h-5.8zM896.0,1274.2h17.5v5.8h-17.5zM541.1,1280.0h23.3v5.8h-23.3zM599.3,1280.0h11.6v5.8h-11.6zM680.7,1280.0h11.6v5.8h-11.6zM797.1,1280.0h17.5v5.8h-17.5zM820.4,1280.0h29.1v5.8h-29.1zM541.1,1285.8h23.3v5.8h-23.3zM599.3,1285.8h11.6v5.8h-11.6zM680.7,1285.8h11.6v5.8h-11.6zM797.1,1285.8h17.5v5.8h-17.5zM820.4,1285.8h29.1v5.8h-29.1zM558.5,1291.6h17.5v5.8h-17.5zM605.1,1291.6h23.3v5.8h-23.3zM686.5,1291.6h11.6v5.8h-11.6zM797.1,1291.6h11.6v5.8h-11.6zM826.2,1291.6h23.3v5.8h-23.3zM570.2,1297.5h17.5v5.8h-17.5zM622.5,1297.5h11.6v5.8h-11.6zM698.2,1297.5h5.8v5.8h-5.8zM791.3,1297.5h5.8v5.8h-5.8zM587.6,1303.3h11.6v5.8h-11.6zM628.4,1303.3h29.1v5.8h-29.1zM704.0,1303.3h11.6v5.8h-11.6zM791.3,1303.3h17.5v5.8h-17.5zM913.5,1303.3h23.3v5.8h-23.3zM593.5,1309.1h11.6v5.8h-11.6zM640.0,1309.1h17.5v5.8h-17.5zM704.0,1309.1h17.5v5.8h-17.5zM797.1,1309.1h11.6v5.8h-11.6zM907.6,1309.1h5.8v5.8h-5.8zM930.9,1309.1h5.8v5.8h-5.8zM593.5,1314.9h11.6v5.8h-11.6zM640.0,1314.9h17.5v5.8h-17.5zM704.0,1314.9h17.5v5.8h-17.5zM797.1,1314.9h11.6v5.8h-11.6zM907.6,1314.9h5.8v5.8h-5.8zM930.9,1314.9h5.8v5.8h-5.8zM599.3,1320.7h11.6v5.8h-11.6zM651.6,1320.7h11.6v5.8h-11.6zM715.6,1320.7h11.6v5.8h-11.6zM797.1,1320.7h23.3v5.8h-23.3zM866.9,1320.7h52.4v5.8h-52.4zM930.9,1320.7h11.6v5.8h-11.6zM610.9,1326.5h11.6v5.8h-11.6zM657.5,1326.5h5.8v5.8h-5.8zM721.5,1326.5h11.6v5.8h-11.6zM808.7,1326.5h23.3v5.8h-23.3zM872.7,1326.5h29.1v5.8h-29.1zM913.5,1326.5h5.8v5.8h-5.8zM930.9,1326.5h11.6v5.8h-11.6zM610.9,1332.4h23.3v5.8h-23.3zM663.3,1332.4h5.8v5.8h-5.8zM727.3,1332.4h17.5v5.8h-17.5zM808.7,1332.4h5.8v5.8h-5.8zM907.6,1332.4h5.8v5.8h-5.8zM930.9,1332.4h17.5v5.8h-17.5zM628.4,1338.2h5.8v5.8h-5.8zM669.1,1338.2h11.6v5.8h-11.6zM733.1,1338.2h17.5v5.8h-17.5zM808.7,1338.2h11.6v5.8h-11.6zM628.4,1344.0h11.6v5.8h-11.6zM669.1,1344.0h17.5v5.8h-17.5zM744.7,1344.0h11.6v5.8h-11.6zM814.5,1344.0h11.6v5.8h-11.6zM628.4,1349.8h11.6v5.8h-11.6zM669.1,1349.8h17.5v5.8h-17.5zM744.7,1349.8h23.3v5.8h-23.3zM814.5,1349.8h11.6v5.8h-11.6zM640.0,1355.6h11.6v5.8h-11.6zM680.7,1355.6h11.6v5.8h-11.6zM750.5,1355.6h5.8v5.8h-5.8zM762.2,1355.6h23.3v5.8h-23.3zM826.2,1355.6h5.8v5.8h-5.8zM640.0,1361.5h17.5v5.8h-17.5zM686.5,1361.5h11.6v5.8h-11.6zM773.8,1361.5h34.9v5.8h-34.9zM884.4,1361.5h29.1v5.8h-29.1zM930.9,1361.5h11.6v5.8h-11.6zM651.6,1367.3h11.6v5.8h-11.6zM698.2,1367.3h17.5v5.8h-17.5zM808.7,1367.3h23.3v5.8h-23.3zM919.3,1367.3h17.5v5.8h-17.5zM657.5,1373.1h11.6v5.8h-11.6zM704.0,1373.1h17.5v5.8h-17.5zM907.6,1373.1h23.3v5.8h-23.3zM657.5,1378.9h11.6v5.8h-11.6zM704.0,1378.9h17.5v5.8h-17.5zM907.6,1378.9h23.3v5.8h-23.3zM663.3,1384.7h17.5v5.8h-17.5zM715.6,1384.7h5.8v5.8h-5.8zM890.2,1384.7h23.3v5.8h-23.3zM669.1,1390.5h17.5v5.8h-17.5zM715.6,1390.5h29.1v5.8h-29.1zM808.7,1390.5h98.9v5.8h-98.9zM680.7,1396.4h5.8v5.8h-5.8zM715.6,1396.4h5.8v5.8h-5.8zM733.1,1396.4h17.5v5.8h-17.5zM802.9,1396.4h11.6v5.8h-11.6zM820.4,1396.4h5.8v5.8h-5.8zM855.3,1396.4h34.9v5.8h-34.9zM686.5,1402.2h11.6v5.8h-11.6zM715.6,1402.2h5.8v5.8h-5.8zM744.7,1402.2h5.8v5.8h-5.8zM791.3,1402.2h17.5v5.8h-17.5zM686.5,1408.0h11.6v5.8h-11.6zM715.6,1408.0h5.8v5.8h-5.8zM744.7,1408.0h52.4v5.8h-52.4zM692.4,1413.8h29.1v5.8h-29.1zM727.3,1413.8h17.5v5.8h-17.5zM704.0,1419.6h23.3v5.8h-23.3z"/></g>
<!-- LEADERS -->
<g id="leaders">
<line class="lead" x1="942.5" y1="305" x2="942.5" y2="500"/>
<rect x="925" y="493.8" width="35" height="35"/>
<line class="lead" x1="238.5" y1="560" x2="238.5" y2="825"/>
<rect x="215" y="820" width="41" height="40"/>
<line class="lead" x1="1053.1" y1="550" x2="1053.1" y2="690"/>
<rect x="1035.9" y="523" width="34.8" height="34.8"/>
<polyline class="lead" style="stroke-width:12.2" points="1182,1073 970,1290.8"/>
<polyline class="lead" style="stroke-width:11.7" points="972.5,1290.8 880,1290.8"/>
<polygon points="964,1285 976.5,1285 973,1296.6 964,1296.6"/>
<rect x="855" y="1274" width="35" height="34.5"/>
<line class="lead" x1="865" y1="1349.5" x2="1040" y2="1349.5"/>
<rect x="837.8" y="1332.1" width="34.8" height="35"/>
</g>

<!-- LABEL BOXES -->
<g id="labels">
<g><text class="lbl" x="352.6 440.5 526.6 614.0 658.8 723.2 801.5 864.2 949.5" y="276.3" font-size="118.6">NAB-J31BX</text></g>
<rect x="677.8" y="190.0" width="18.8" height="20.0" fill="#fff"/>
<rect x="806.3" y="262.7" width="22.3" height="18.1" fill="#fff"/>
<rect x="844.1" y="262.7" width="22.3" height="18.1" fill="#fff"/>
<g><text class="lbl" x="43.9 131.8 217.9 305.2 350.0 414.5 492.8 553.5" y="537.5" font-size="118.6">NAB-J31S</text></g>
<rect x="369.0" y="451.2" width="18.8" height="20.0" fill="#fff"/>
<rect x="497.6" y="523.9" width="22.3" height="18.1" fill="#fff"/>
<rect x="535.4" y="523.9" width="22.3" height="18.1" fill="#fff"/>
<g><text class="lbl" x="939.9 1027.8 1113.9 1201.2 1246.0 1310.5 1388.8 1452.5" y="794.2" font-size="118.6">NAB-J31B</text></g>
<rect x="1265.0" y="707.9" width="18.8" height="20.0" fill="#fff"/>
<rect x="1393.6" y="780.6" width="22.3" height="18.1" fill="#fff"/>
<rect x="1431.4" y="780.6" width="22.3" height="18.1" fill="#fff"/>
<g transform="scale(0.95 1)"><text class="bold" x="973.1 1062.4 1153.2 1228.2 1320.3 1361.1 1436.2 1516.8" y="970.0" font-size="122.7">NBJB-J31</text></g>
<rect x="1116.6" y="883.3" width="19.3" height="19.2" fill="#fff"/>
<rect x="1314.1" y="883.3" width="19.3" height="19.2" fill="#fff"/>
<rect x="1445.8" y="953.7" width="21.8" height="18.3" fill="#fff"/>
<rect x="1484.2" y="953.7" width="21.7" height="18.3" fill="#fff"/>
<g transform="scale(0.93 1)"><text class="lbl" style="stroke-width:2.4" x="939.4 996.8 1052.4 1102.8 1184.0 1179.4 1220.6 1284.6 1308.7 1364.4 1449.8 1439.4 1495.6 1558.7 1621.8" y="1056.0" font-size="78">BALL JOINT BOOT</text></g>
<rect x="1108.4" y="999.0" width="11.8" height="13.0" fill="#fff"/>
<g transform="scale(0.945 1)"><text class="bold" x="1109.3 1178.2 1245.7 1313.5 1380.8 1421.3 1486.1 1557.6" y="1389.0" font-size="117">0220-J31</text></g>
<rect x="1363.1" y="1306.3" width="18.4" height="18.4" fill="#fff"/>
<rect x="1476.5" y="1373.4" width="20.7" height="17.6" fill="#fff"/>
<rect x="1513.0" y="1373.4" width="20.7" height="17.6" fill="#fff"/>
<rect class="box" x="343" y="174" width="698.5" height="128"/>
<rect class="box" x="34.5" y="436" width="611.5" height="122"/>
<rect class="box" x="930.5" y="692" width="617.5" height="122.5"/>
<rect class="box" x="860.5" y="872" width="705" height="198"/>
<rect class="box" x="1040.5" y="1297" width="490" height="105"/>
</g>

<text y="900.5" font-size="32.4" fill="#dedede" text-anchor="middle" style="mix-blend-mode:darken" x="413.3 502.8 591 678.8 762 845 930 1018 1103.5 1187.5">AUTO PARTS</text>

</svg>
</body>
</html>
